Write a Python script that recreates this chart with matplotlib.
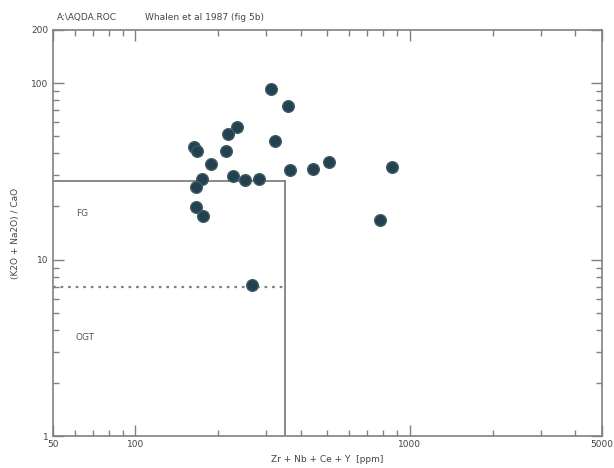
import matplotlib
matplotlib.use('Agg')
import matplotlib.pyplot as plt
from matplotlib.ticker import LogLocator, FixedLocator, NullFormatter
import numpy as np

# Zr + Nb + Ce + Y (ppm)
zr_sum = [311, 361, 235, 218, 164, 168, 214, 323, 189, 509, 443, 365,
          859, 175, 166, 226, 250, 283, 166, 177, 777, 266]
# (K2O + Na2O) / CaO
alk_ca = [92.5, 74, 56.5, 51.2, 43.5, 41.1, 41.5, 46.7, 34.7, 35.7, 32.6, 32.0,
          33.6, 28.6, 25.9, 29.6, 28.1, 28.6, 19.8, 17.7, 16.7, 7.2]

x_ticks = [50, 100, 1000, 5000]
y_ticks = [1, 10, 100, 200]
zr_limit = 350
fg_limit = 28
ogt_limit = 7

fig = plt.figure(figsize=(6.14, 4.68), dpi=100)
ax = fig.add_axes([0.086, 0.068, 0.894, 0.868])
ax.set_xscale('log')
ax.set_yscale('log')
ax.set_xlim(50, 5000)
ax.set_ylim(1, 200)

gray = '#808080'
# field boundaries
ax.plot([50, zr_limit], [fg_limit, fg_limit], color=gray, lw=1.3)
ax.plot([zr_limit, zr_limit], [1, fg_limit], color=gray, lw=1.3)
ax.plot([50, zr_limit], [ogt_limit, ogt_limit], color=gray, lw=1.6,
        linestyle=(0, (1.2, 2.2)))

ax.scatter(zr_sum, alk_ca, s=70, color='#24414f', edgecolors='#3d5a66',
           linewidths=1.0, zorder=3)

ax.text(64, 18.2, 'FG', fontsize=6.5, color='#555555', ha='center', va='center')
ax.text(65.5, 3.6, 'OGT', fontsize=6.5, color='#555555', ha='center', va='center')

for s in ax.spines.values():
    s.set_color(gray)
    s.set_linewidth(1.2)

ax.xaxis.set_major_locator(FixedLocator(x_ticks))
ax.set_xticklabels([str(v) for v in x_ticks])
ax.yaxis.set_major_locator(FixedLocator(y_ticks))
ax.set_yticklabels([str(v) for v in y_ticks])
ax.xaxis.set_minor_locator(LogLocator(base=10, subs=np.arange(2, 10)))
ax.yaxis.set_minor_locator(LogLocator(base=10, subs=np.arange(2, 10)))
ax.xaxis.set_minor_formatter(NullFormatter())
ax.yaxis.set_minor_formatter(NullFormatter())
ax.tick_params(which='both', direction='in', top=True, right=True,
               colors=gray, labelcolor='#444444', labelsize=6.5, pad=3)
ax.tick_params(which='major', length=8, width=1.0)
ax.tick_params(which='minor', length=4, width=1.0)

ax.set_xlabel('Zr + Nb + Ce + Y  [ppm]', fontsize=6.5, color='#444444', labelpad=4)
ax.set_ylabel('(K2O + Na2O) / CaO', fontsize=6.5, color='#444444', labelpad=8)

fig.text(0.093, 0.962, 'A:\\AQDA.ROC', fontsize=6.5, color='#444444', va='center')
fig.text(0.236, 0.962, 'Whalen et al 1987 (fig 5b)', fontsize=6.5, color='#444444',
         va='center')

fig.savefig('out.png', dpi=100, facecolor='white')
